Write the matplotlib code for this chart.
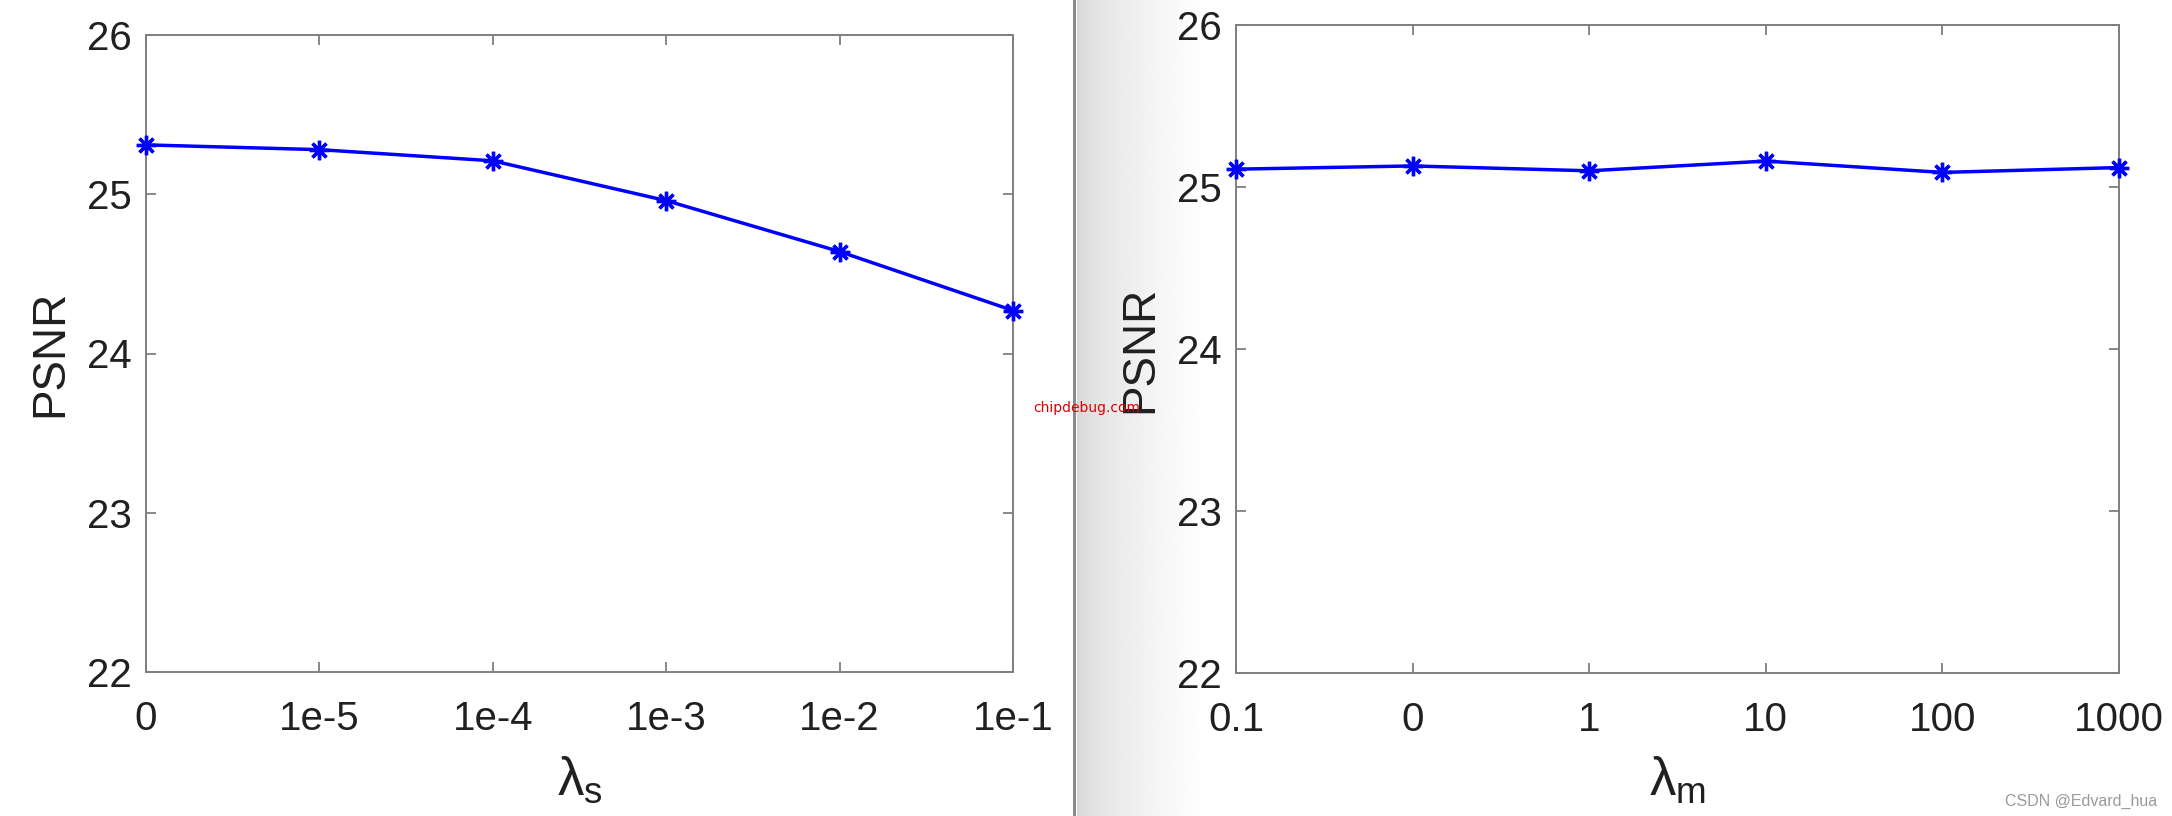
import numpy as np
import matplotlib.pyplot as plt
from matplotlib.patches import Rectangle

plt.rcParams['font.family'] = ['Liberation Sans', 'DejaVu Sans']
plt.rcParams['mathtext.fontset'] = 'custom'
plt.rcParams['mathtext.rm'] = 'Liberation Sans'
plt.rcParams['mathtext.it'] = 'Liberation Sans'
plt.rcParams['mathtext.bf'] = 'Liberation Sans:bold'

# 数据
labels_s = ['0', '1e-5', '1e-4', '1e-3', '1e-2', '1e-1']
psnr_s = [25.31, 25.28, 25.21, 24.96, 24.64, 24.27]

labels_m = ['0.1', '0', '1', '10', '100', '1000']
psnr_m = [25.11, 25.13, 25.10, 25.16, 25.09, 25.12]

yticks = [22, 23, 24, 25, 26]

W, H = 2172, 816
fig = plt.figure(figsize=(W / 100, H / 100), dpi=100)

# 右半边截图的阴影和分隔线
grad = fig.add_axes([1077 / W, 0, 130 / W, 1])
g = np.linspace(0, 1, 256) ** 0.6
grad.imshow((0.84 + 0.16 * g)[None, :], cmap='gray', vmin=0, vmax=1,
            aspect='auto', extent=(0, 1, 0, 1))
grad.axis('off')
fig.add_artist(Rectangle((1073 / W, 0), 3 / W, 1, transform=fig.transFigure,
                         color='#8a8a8a', lw=0))


def draw(ax, labels, vals, xlab):
    x = np.arange(len(labels))
    ax.plot(x, vals, color='#0000ff', lw=2.5, marker=(8, 2, 0),
            markersize=14, markeredgewidth=2.4, clip_on=False, zorder=5)
    ax.set_xlim(0, len(labels) - 1)
    ax.set_ylim(22, 26)
    ax.set_xticks(x)
    ax.set_xticklabels(labels)
    ax.set_yticks(yticks)
    ax.tick_params(direction='in', length=7, width=1.3, color='#7f7f7f',
                   labelsize=29, labelcolor='#202020', top=True, right=True)
    ax.tick_params(axis='x', pad=20)
    ax.tick_params(axis='y', pad=10)
    for s in ax.spines.values():
        s.set_color('#7f7f7f')
        s.set_linewidth(1.4)
    ax.set_ylabel('PSNR', fontsize=33, color='#202020', labelpad=11)
    ax.set_xlabel(xlab, fontsize=38, color='#202020', labelpad=12)


ax1 = fig.add_axes([146 / W, 1 - 672 / H, (1013 - 146) / W, (672 - 35) / H])
draw(ax1, labels_s, psnr_s, r'$\lambda_{\rm s}$')

ax2 = fig.add_axes([1236 / W, 1 - 673 / H, (2119 - 1236) / W, (673 - 25) / H])
draw(ax2, labels_m, psnr_m, r'$\lambda_{\rm m}$')

fig.text(1033 / W, 1 - 408 / H, 'chipdebug.com', color='#e00000',
         fontsize=10, va='center', ha='left', family='DejaVu Sans')
fig.text(2157 / W, 1 - 801 / H, 'CSDN @Edvard_hua', color='#9a9a9a',
         fontsize=11.5, va='center', ha='right')

fig.savefig('out.png', dpi=100)
